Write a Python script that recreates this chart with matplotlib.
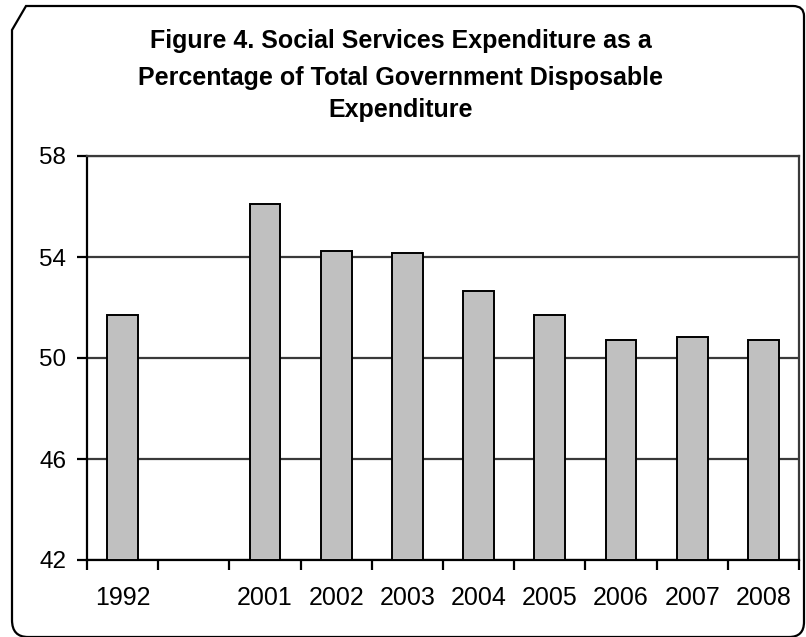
import matplotlib
matplotlib.use("Agg")
import matplotlib.pyplot as plt
from matplotlib.path import Path
from matplotlib.patches import PathPatch

# social services share of total disposable expenditure (%)
years = ["1992", "", "2001", "2002", "2003", "2004", "2005", "2006", "2007", "2008"]
shares = [51.7, None, 56.1, 54.25, 54.15, 52.65, 51.7, 50.7, 50.85, 50.7]
title_lines = ["Figure 4. Social Services Expenditure as a",
               "Percentage of Total Government Disposable",
               "Expenditure"]

plt.rcParams['font.family'] = ['Liberation Sans', 'DejaVu Sans']

fig = plt.figure(figsize=(8.06, 6.37), dpi=100)

# outer chart border, drawn in pixel space
bg = fig.add_axes([0, 0, 1, 1])
bg.set_xlim(0, 806)
bg.set_ylim(637, 0)
bg.axis("off")
verts = [(12, 30), (26, 6), (793, 6), (804, 6), (804, 16),
         (804, 622), (804, 637), (789, 637), (28, 637),
         (12, 637), (12, 620), (12, 30)]
codes = [Path.MOVETO, Path.LINETO, Path.LINETO, Path.CURVE3, Path.CURVE3,
         Path.LINETO, Path.CURVE3, Path.CURVE3, Path.LINETO,
         Path.CURVE3, Path.CURVE3, Path.CLOSEPOLY]
bg.add_patch(PathPatch(Path(verts, codes), facecolor="none", edgecolor="black", lw=1.6))

for txt, yb in zip(title_lines, [48, 85, 117]):
    bg.text(401, yb, txt, ha="center", va="baseline", fontsize=18, fontweight="bold")

ax = fig.add_axes([87 / 806, 77 / 637, 712 / 806, 404 / 637])
x = list(range(len(years)))
for i, v in enumerate(shares):
    if v is not None:
        ax.bar(i, v - 42, bottom=42, width=0.43, color="#c0c0c0",
               edgecolor="black", linewidth=1.4, zorder=3)

ax.set_xlim(-0.5, len(years) - 0.5)
ax.set_ylim(42, 58)
ax.set_yticks([42, 46, 50, 54, 58])
ax.yaxis.grid(True, color="#3a3a3a", linewidth=1.6, zorder=1)

ax.set_xticks(x)
ax.set_xticklabels(years)
ax.set_xticks([i - 0.5 for i in range(len(years) + 1)], minor=True)
ax.tick_params(axis="x", which="major", length=0, pad=19, labelsize=18)
ax.tick_params(axis="x", which="minor", length=7, width=1.6, direction="out")
ax.tick_params(axis="y", length=7, width=1.6, pad=8, labelsize=17.5)

for side in ["left", "bottom"]:
    ax.spines[side].set_linewidth(1.6)
    ax.spines[side].set_color("black")
for side in ["top", "right"]:
    ax.spines[side].set_linewidth(1.6)
    ax.spines[side].set_color("#3a3a3a")

fig.savefig("out.png", dpi=100)
